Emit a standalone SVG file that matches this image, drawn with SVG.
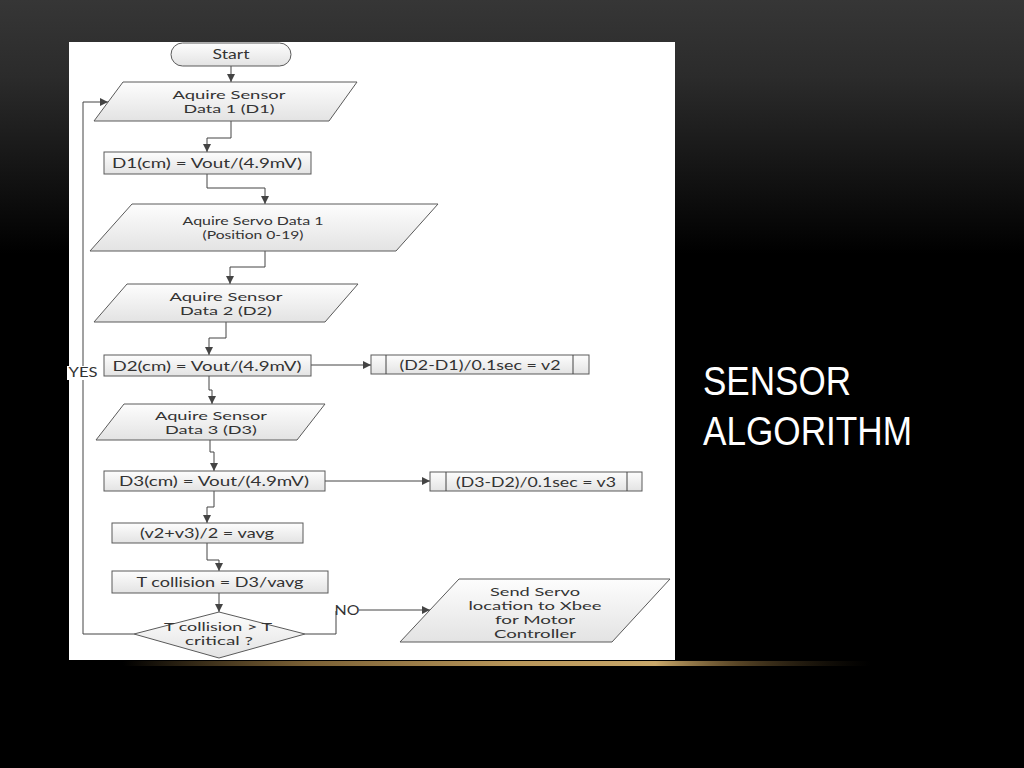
<svg xmlns="http://www.w3.org/2000/svg" width="1024" height="768" viewBox="0 0 1024 768">
<defs>
<linearGradient id="bg" x1="0" y1="0" x2="0" y2="1">
<stop offset="0" stop-color="#363636"/>
<stop offset="0.1" stop-color="#2b2b2b"/>
<stop offset="0.33" stop-color="#000"/>
<stop offset="1" stop-color="#000"/>
</linearGradient>
<linearGradient id="gold" x1="0" y1="0" x2="1" y2="0">
<stop offset="0.12" stop-color="#8a6d3b" stop-opacity="0"/>
<stop offset="0.3" stop-color="#7a6035"/>
<stop offset="0.5" stop-color="#b8965a"/>
<stop offset="0.64" stop-color="#c9a86a"/>
<stop offset="0.72" stop-color="#7d6236" stop-opacity="0.7"/>
<stop offset="0.85" stop-color="#3a2d18" stop-opacity="0"/>
</linearGradient>
<linearGradient id="shp" x1="0" y1="0" x2="0" y2="1">
<stop offset="0" stop-color="#fdfdfd"/>
<stop offset="1" stop-color="#e3e3e3"/>
</linearGradient>
<marker id="ah" markerUnits="userSpaceOnUse" markerWidth="10" markerHeight="10" refX="8" refY="4" orient="auto">
<path d="M0,0 L8,4 L0,8 Z" fill="#444"/>
</marker>
<style>
.s{fill:url(#shp);stroke:#5a5a5a;stroke-width:1}
.c{fill:none;stroke:#444;stroke-width:1}
.a{marker-end:url(#ah)}
.t{font-family:Lato,"Open Sans","Liberation Sans",sans-serif;font-size:13.5px;fill:#333;text-anchor:middle}
.m{font-size:11.5px}
.ttl{font-family:"Liberation Sans",Arial,sans-serif;font-size:41px;fill:#fff}
</style>
</defs>
<rect x="0" y="0" width="1024" height="768" fill="url(#bg)"/>
<rect x="0" y="661" width="1024" height="5" fill="url(#gold)"/>
<rect x="69" y="42" width="606" height="618" fill="#fff"/>

<g id="connectors">
<path class="c a" d="M231,66 V82"/>
<path class="c a" d="M231,121 V138 H207 V152"/>
<path class="c a" d="M207,174 V188 H265 V204"/>
<path class="c a" d="M265,251 V267 H230 V284"/>
<path class="c a" d="M226,322 V338 H209 V355"/>
<path class="c a" d="M311,365 H371"/>
<path class="c a" d="M209,376 V390 H212 V404"/>
<path class="c a" d="M210,440 V452 H214 V471"/>
<path class="c a" d="M325,481 H430"/>
<path class="c a" d="M214,491 V507 H207 V523"/>
<path class="c a" d="M207,543 V560 H219 V571"/>
<path class="c a" d="M219,593 V612"/>
<path class="c a" d="M134,634 H83 V102 H108"/>
<path class="c" d="M305,634 H336 V611"/>
<path class="c a" d="M359,610 H430"/>
<rect x="67" y="366" width="32" height="14" fill="#fff"/>
<text class="t" x="83" y="377" textLength="29" lengthAdjust="spacingAndGlyphs">YES</text>
<text class="t" x="347" y="615" textLength="25" lengthAdjust="spacingAndGlyphs">NO</text>
</g>

<g id="start">
<rect class="s" x="171" y="43" width="120" height="23" rx="11.5"/>
<text class="t" x="231" y="59" textLength="37" lengthAdjust="spacingAndGlyphs">Start</text>
</g>
<g id="p1">
<polygon class="s" points="123,82 357,82 329,121 94,121"/>
<text class="t m" x="229" y="99" textLength="113" lengthAdjust="spacingAndGlyphs">Aquire Sensor</text>
<text class="t m" x="229" y="113" textLength="91" lengthAdjust="spacingAndGlyphs">Data 1 (D1)</text>
</g>
<g id="d1">
<rect class="s" x="104" y="152" width="207" height="22"/>
<text class="t" x="207" y="168" textLength="190" lengthAdjust="spacingAndGlyphs">D1(cm) = Vout/(4.9mV)</text>
</g>
<g id="p2">
<polygon class="s" points="132,204 438,204 396,251 90,251"/>
<text class="t m" x="253" y="225" textLength="141" lengthAdjust="spacingAndGlyphs">Aquire Servo Data 1</text>
<text class="t m" x="253" y="239" textLength="101" lengthAdjust="spacingAndGlyphs">(Position 0-19)</text>
</g>
<g id="p3">
<polygon class="s" points="127,284 358,284 325,322 94,322"/>
<text class="t m" x="226" y="300.5" textLength="113" lengthAdjust="spacingAndGlyphs">Aquire Sensor</text>
<text class="t m" x="226" y="314.5" textLength="92" lengthAdjust="spacingAndGlyphs">Data 2 (D2)</text>
</g>
<g id="d2">
<rect class="s" x="104" y="355" width="207" height="21"/>
<text class="t" x="207" y="370.5" textLength="189" lengthAdjust="spacingAndGlyphs">D2(cm) = Vout/(4.9mV)</text>
</g>
<g id="v2">
<rect class="s" x="371" y="355" width="218" height="19"/>
<line class="c" x1="386" y1="355" x2="386" y2="374"/>
<line class="c" x1="573" y1="355" x2="573" y2="374"/>
<text class="t" x="480" y="369.5" textLength="161" lengthAdjust="spacingAndGlyphs">(D2-D1)/0.1sec = v2</text>
</g>
<g id="p4">
<polygon class="s" points="124,404 325,404 297,440 96,440"/>
<text class="t m" x="211" y="419.5" textLength="112" lengthAdjust="spacingAndGlyphs">Aquire Sensor</text>
<text class="t m" x="211" y="433.5" textLength="92" lengthAdjust="spacingAndGlyphs">Data 3 (D3)</text>
</g>
<g id="d3">
<rect class="s" x="104" y="471" width="221" height="20"/>
<text class="t" x="214" y="486" textLength="190" lengthAdjust="spacingAndGlyphs">D3(cm) = Vout/(4.9mV)</text>
</g>
<g id="v3">
<rect class="s" x="430" y="472" width="212" height="19"/>
<line class="c" x1="446" y1="472" x2="446" y2="491"/>
<line class="c" x1="627" y1="472" x2="627" y2="491"/>
<text class="t" x="536" y="486.5" textLength="160" lengthAdjust="spacingAndGlyphs">(D3-D2)/0.1sec = v3</text>
</g>
<g id="vavg">
<rect class="s" x="112" y="523" width="191" height="20"/>
<text class="t" x="207" y="538" textLength="134" lengthAdjust="spacingAndGlyphs">(v2+v3)/2 = vavg</text>
</g>
<g id="tcoll">
<rect class="s" x="112" y="571" width="216" height="22"/>
<text class="t" x="220" y="587" textLength="167" lengthAdjust="spacingAndGlyphs">T collision = D3/vavg</text>
</g>
<g id="decision">
<polygon class="s" points="219,612 305,634 219,658 134,634"/>
<text class="t m" x="218" y="631" textLength="108" lengthAdjust="spacingAndGlyphs">T collision &gt; T</text>
<text class="t m" x="219" y="645" textLength="68" lengthAdjust="spacingAndGlyphs">critical ?</text>
</g>
<g id="p5">
<polygon class="s" points="459,579 670,579 612,642 400,642"/>
<text class="t m" x="535" y="596" textLength="90" lengthAdjust="spacingAndGlyphs">Send Servo</text>
<text class="t m" x="535" y="610" textLength="133" lengthAdjust="spacingAndGlyphs">location to Xbee</text>
<text class="t m" x="535" y="624" textLength="80" lengthAdjust="spacingAndGlyphs">for Motor</text>
<text class="t m" x="535" y="638" textLength="82" lengthAdjust="spacingAndGlyphs">Controller</text>
</g>

<g id="title">
<text class="ttl" x="703" y="395" textLength="148" lengthAdjust="spacingAndGlyphs">SENSOR</text>
<text class="ttl" x="703" y="445" textLength="209" lengthAdjust="spacingAndGlyphs">ALGORITHM</text>
</g>
</svg>
